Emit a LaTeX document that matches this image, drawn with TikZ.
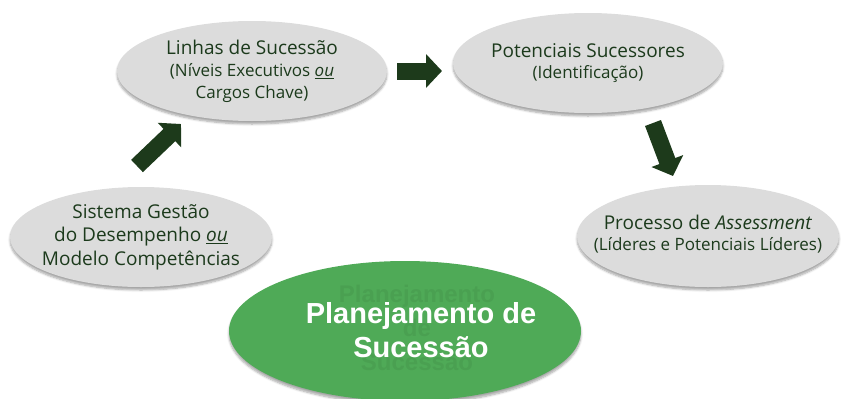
\documentclass[tikz,border=0pt]{standalone}
\usepackage{fontspec}
\setmainfont{Open Sans}
\newfontfamily\boldsans{Liberation Sans}
\usetikzlibrary{shapes.geometric,arrows.meta,shadows.blur}
\definecolor{txtgreen}{HTML}{1C3A1C}
\definecolor{arrgreen}{HTML}{1D3A1B}
\definecolor{ellgray}{HTML}{DCDCDC}
\definecolor{maingreen}{HTML}{4FAA57}
\tikzset{
  grayell/.style={ellipse, fill=ellgray, inner sep=0pt,
    blur shadow={shadow xshift=0pt, shadow yshift=-3pt, shadow blur steps=6, shadow opacity=35}},
  elltext/.style={text=txtgreen, align=center, inner sep=0pt},
  twoline/.style={font=\fontsize{17}{21.5}\selectfont},
  blockarrow/.style={draw=arrgreen, line width=17pt, line cap=butt,
    -{Triangle[width=33pt, length=16pt]}},
}
\newcommand{\bigln}{\fontsize{19}{22}\selectfont}
\begin{document}
\begin{tikzpicture}[x=1pt,y=-1pt]
\useasboundingbox (0,0) rectangle (841,399);
% gray ellipses
\node[grayell, minimum width=262, minimum height=100] (sist) at (141,237) {};
\node[grayell, minimum width=270, minimum height=100] (linhas) at (252,71) {};
\node[grayell, minimum width=270, minimum height=100] (pot) at (588,63) {};
\node[grayell, minimum width=262, minimum height=102] (proc) at (708,236) {};
\node[elltext, font=\fontsize{19}{23.5}\selectfont] (sistT) at (sist.center)
  {Sistema Gestão\\ do Desempenho \underline{\textit{ou}}\\ Modelo Competências};
\node[elltext, twoline] (linhasT) at (linhas.center)
  {{\bigln Linhas de Sucessão}\\[1pt] (Níveis Executivos \underline{\textit{ou}}\\ Cargos Chave)};
\node[elltext, twoline] (potT) at (pot.center)
  {{\bigln Potenciais Sucessores}\\ (Identificação)};
\node[elltext, twoline] (procT) at ([yshift=2pt]proc.center)
  {{\bigln Processo de \textit{Assessment}}\\ (Líderes e Potenciais Líderes)};
% main green ellipse
\node[ellipse, fill=maingreen, minimum width=352, minimum height=140, inner sep=0pt,
  blur shadow={shadow xshift=0pt, shadow yshift=-3pt, shadow blur steps=6, shadow opacity=35}] (plan) at (405,331) {};
\node[text=black, opacity=0.06, align=center, font=\boldsans\bfseries\fontsize{24}{34}\selectfont] (ghost) at (417,328)
  {Planejamento\\ de\\ Sucessão};
\node[text=white, align=center, font=\boldsans\bfseries\fontsize{29}{34}\selectfont] (plantxt) at (421,330)
  {Planejamento de\\ Sucessão};
% arrows
\coordinate (a1s) at (137,166); \coordinate (a1e) at (181,124);
\coordinate (a2s) at (397,71);  \coordinate (a2e) at (442,71);
\coordinate (a3s) at (653,123); \coordinate (a3e) at (673,176);
\draw[blockarrow] (a1s) -- (a1e);
\draw[blockarrow] (a2s) -- (a2e);
\draw[blockarrow] (a3s) -- (a3e);
\end{tikzpicture}
\end{document}
